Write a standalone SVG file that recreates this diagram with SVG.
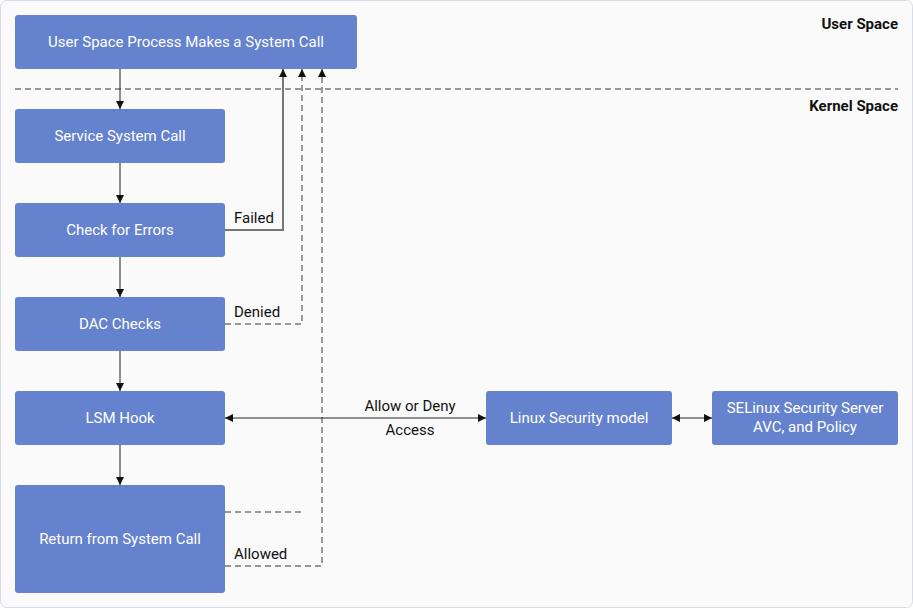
<svg xmlns="http://www.w3.org/2000/svg" width="913" height="608" viewBox="0 0 913 608">
<style>
.n{fill:#6582ce;rx:3}
.t{font-family:Roboto,"Liberation Sans",sans-serif;font-size:15px;fill:#fff;text-anchor:middle;dominant-baseline:central}
.l{font-family:Roboto,"Liberation Sans",sans-serif;font-size:15px;fill:#111}
.b{font-family:Roboto,"Liberation Sans",sans-serif;font-size:15px;font-weight:bold;fill:#111;text-anchor:end}
.k{stroke:#222;stroke-width:1;fill:none}
.g{stroke:#777;stroke-width:2;fill:none}
.d{stroke:#777;stroke-width:1.5;fill:none;stroke-dasharray:6 4}
</style>
<defs>
<marker id="a" viewBox="0 0 10 10" refX="10" refY="5" markerWidth="8" markerHeight="8" orient="auto-start-reverse" markerUnits="userSpaceOnUse"><path d="M0,0L10,5L0,10z" fill="#111"/></marker>
</defs>
<rect x="0.5" y="0.5" width="912" height="607" rx="6" fill="#fafafa" stroke="#d8dce6"/>
<text class="b" x="898" y="29">User Space</text>
<text class="b" x="898" y="111">Kernel Space</text>
<line x1="15" y1="89" x2="898" y2="89" class="d" stroke-width="2"/>
<g id="connectors">
<line class="k" x1="120" y1="69" x2="120" y2="109" marker-end="url(#a)"/>
<line class="k" x1="120" y1="163" x2="120" y2="203" marker-end="url(#a)"/>
<line class="k" x1="120" y1="257" x2="120" y2="297" marker-end="url(#a)"/>
<line class="k" x1="120" y1="351" x2="120" y2="391" marker-end="url(#a)"/>
<line class="k" x1="120" y1="445" x2="120" y2="485" marker-end="url(#a)"/>
<path class="g" d="M225,230H283V69" marker-end="url(#a)"/>
<path class="d" d="M225,324H302V69" marker-end="url(#a)"/>
<path class="d" d="M225,512H302"/>
<path class="d" d="M225,566H322V69" marker-end="url(#a)"/>
<line class="k" x1="225" y1="418" x2="486" y2="418" marker-start="url(#a)" marker-end="url(#a)"/>
<line class="k" x1="672" y1="418" x2="712" y2="418" marker-start="url(#a)" marker-end="url(#a)"/>
<text class="l" x="234" y="223">Failed</text>
<text class="l" x="234" y="317">Denied</text>
<text class="l" x="234" y="559">Allowed</text>
<text class="l" x="410" y="411" text-anchor="middle">Allow or Deny</text>
<text class="l" x="410" y="435" text-anchor="middle">Access</text>
</g>
<g id="n1"><rect class="n" x="15" y="15" width="342" height="54"/><text class="t" x="186" y="42">User Space Process Makes a System Call</text></g>
<g id="n2"><rect class="n" x="15" y="109" width="210" height="54"/><text class="t" x="120" y="136">Service System Call</text></g>
<g id="n3"><rect class="n" x="15" y="203" width="210" height="54"/><text class="t" x="120" y="230">Check for Errors</text></g>
<g id="n4"><rect class="n" x="15" y="297" width="210" height="54"/><text class="t" x="120" y="324">DAC Checks</text></g>
<g id="n5"><rect class="n" x="15" y="391" width="210" height="54"/><text class="t" x="120" y="418">LSM Hook</text></g>
<g id="n6"><rect class="n" x="15" y="485" width="210" height="108"/><text class="t" x="120" y="539">Return from System Call</text></g>
<g id="n7"><rect class="n" x="486" y="391" width="186" height="54"/><text class="t" x="579" y="418">Linux Security model</text></g>
<g id="n8"><rect class="n" x="712" y="391" width="186" height="54"/><text class="t" x="805" y="408">SELinux Security Server</text><text class="t" x="805" y="427">AVC, and Policy</text></g>
</svg>
